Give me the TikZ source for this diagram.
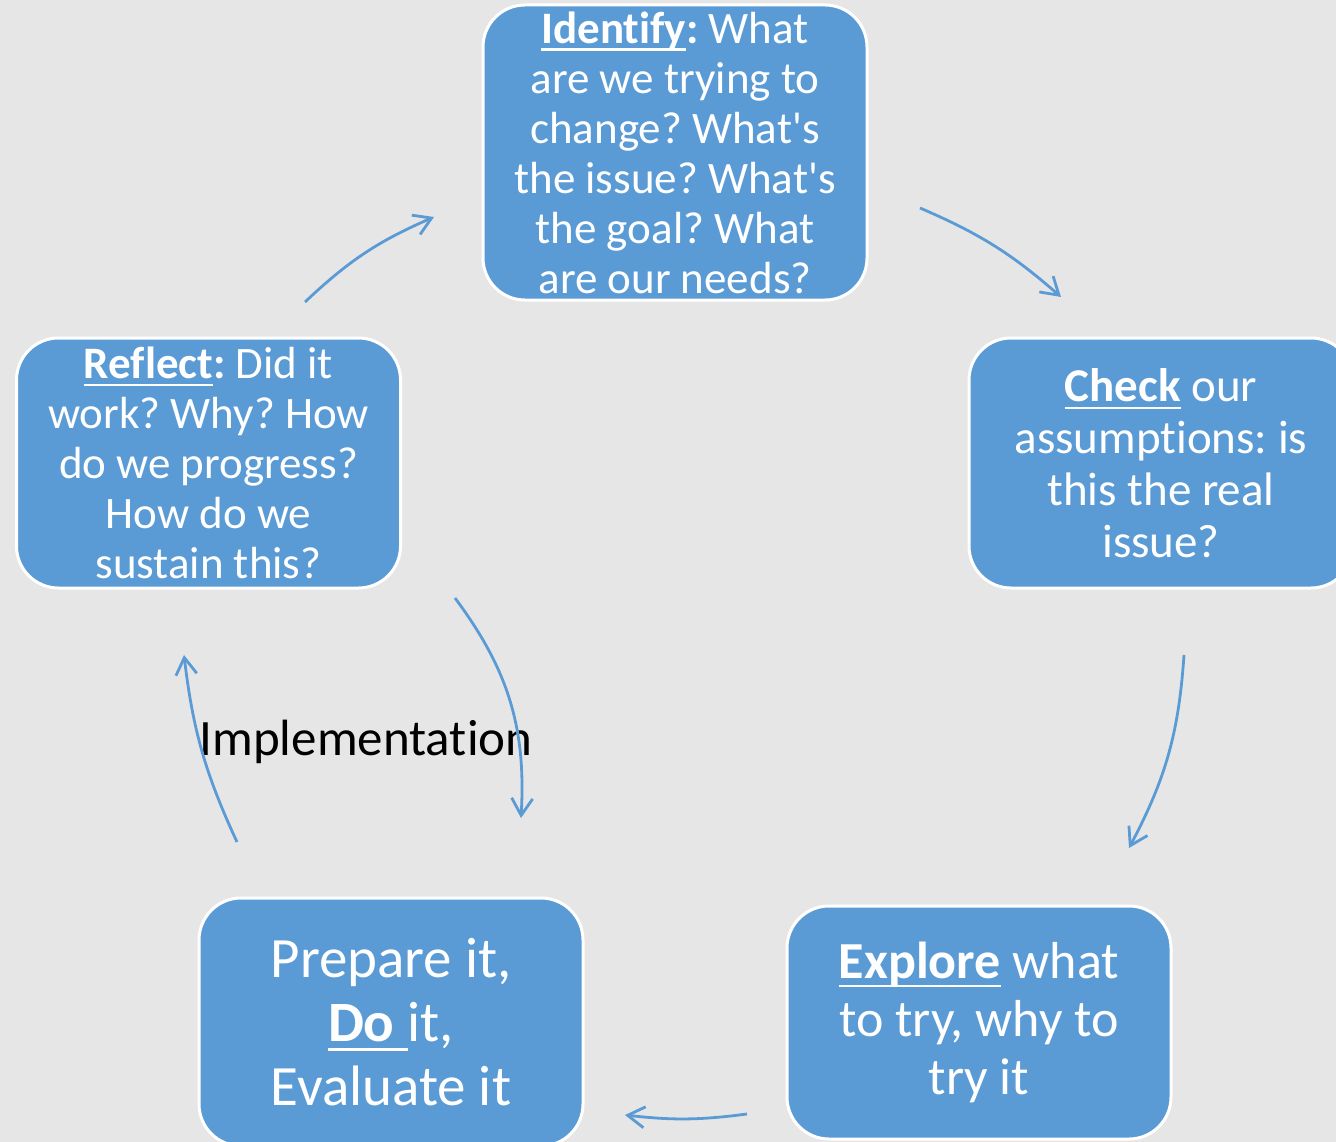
\documentclass[tikz,border=0pt]{standalone}
\usepackage{fontspec}
\newfontfamily\carl{Carlito}[Ligatures={NoCommon}]
\usetikzlibrary{arrows.meta}
\definecolor{boxblue}{HTML}{5B9BD5}
\definecolor{bgc}{HTML}{E7E6E6}
\newcommand{\fsz}[2]{\fontsize{#1}{#2}\selectfont}
\newcommand{\myul}[1]{\leavevmode\setbox0\hbox{#1}\rlap{\rule[-0.17em]{\wd0}{2.6pt}}\box0\relax}
\frenchspacing
\begin{document}
\begin{tikzpicture}[x=1pt,y=-1pt,
  box/.style={fill=boxblue, draw=white, line width=3pt, rounded corners=42pt,
    text=white, align=center, inner sep=0pt, minimum width=384pt},
  arr/.style={draw=boxblue, line width=2.8pt,
    -{Straight Barb[length=17pt,width=21pt,line width=2.8pt]}}]
\path[use as bounding box, fill=bgc] (0,0) rectangle (1336,1142);
\clip (0,0) rectangle (1336,1142);

\node[box, minimum height=295pt, font={\carl\fsz{45}{50}\frenchspacing}] (identify) at (675,152.5)
  {\myul{\textbf{Identify}}\textbf{:} What\\are we trying to\\change? What's\\the issue? What's\\the goal? What\\are our needs?};
\node[box, minimum height=250pt, font={\carl\fsz{47}{52}\frenchspacing}] (check) at (1161,463)
  {\myul{\textbf{Check}} our\\assumptions: is\\this the real\\issue?};
\node[box, minimum height=250pt, font={\carl\fsz{45}{50}\frenchspacing}] (reflect) at (208.5,463)
  {\myul{\textbf{Reflect}}\textbf{:} Did it\\work? Why? How\\do we progress?\\How do we\\sustain this?};
\node[box, minimum height=248pt, font={\carl\fsz{57}{64}\frenchspacing}] (prepare) at (391,1022)
  {Prepare it,\\\myul{\textbf{Do}\ }it,\\Evaluate it};
\node[box, minimum height=233pt, font={\carl\fsz{52}{58}\frenchspacing}] (explore) at (979,1022.5)
  {\myul{\textbf{Explore}} what\\to try, why to\\try it};
\node[font={\carl\fsz{51}{56}}, text=black, inner sep=0pt] (impl) at (366,742) {Implementation};

\coordinate (a1s) at (305,302);  \coordinate (a1e) at (434,217);
\coordinate (a2s) at (920,208);  \coordinate (a2e) at (1061,297);
\coordinate (a3s) at (1184,655); \coordinate (a3e) at (1129,848);
\coordinate (a4s) at (747,1114); \coordinate (a4e) at (625,1115);
\coordinate (a5s) at (237,842);  \coordinate (a5e) at (184,655);
\coordinate (a6s) at (455,598);  \coordinate (a6e) at (521,818);

\draw[arr] (a1s) to[bend left=10] (a1e);
\draw[arr] (a2s) to[bend left=9] (a2e);
\draw[arr] (a3s) to[bend left=12] (a3e);
\draw[arr] (a4s) to[bend left=7] (a4e);
\draw[arr] (a5s) to[bend left=9] (a5e);
\draw[arr] (a6s) to[bend left=20] (a6e);
\end{tikzpicture}
\end{document}
